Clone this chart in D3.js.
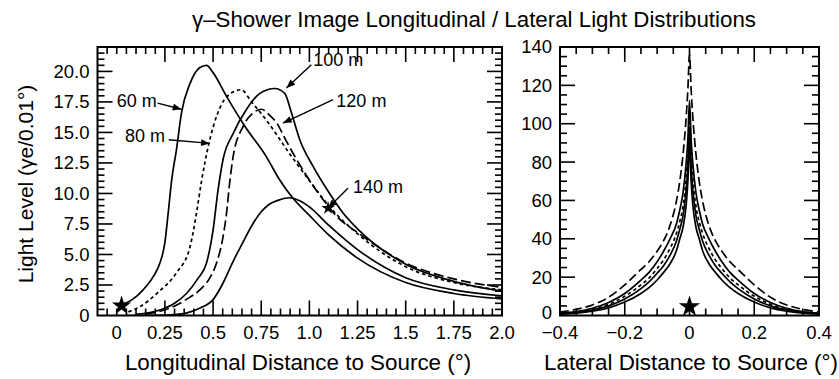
<!DOCTYPE html>
<html><head><meta charset="utf-8">
<script src="https://cdn.jsdelivr.net/npm/d3@7"></script>
<style>body{margin:0;background:#fff}svg{display:block}text{font-family:"Liberation Sans",Arial,Helvetica,sans-serif;fill:#000}</style>
</head><body><svg id="c" width="839" height="379"></svg>
<script>
// ---------- DATA ----------
const titleText = "\u03b3\u2013Shower Image Longitudinal / Lateral Light Distributions";
const leftXLabel = "Longitudinal Distance to Source (\u00b0)";
const rightXLabel = "Lateral Distance to Source (\u00b0)";
const leftYLabel = "Light Level (\u03b3e/0.01\u00b0)";

const leftXTicks = [0, 0.25, 0.5, 0.75, 1.0, 1.25, 1.5, 1.75, 2.0];
const leftXTickLabels = ["0", "0.25", "0.5", "0.75", "1.0", "1.25", "1.5", "1.75", "2.0"];
const leftYTicks = [0, 2.5, 5, 7.5, 10, 12.5, 15, 17.5, 20];
const leftYTickLabels = ["0", "2.5", "5.0", "7.5", "10.0", "12.5", "15.0", "17.5", "20.0"];
const rightXTicks = [-0.4, -0.2, 0, 0.2, 0.4];
const rightXTickLabels = ["\u22120.4", "\u22120.2", "0", "0.2", "0.4"];
const rightYTicks = [0, 20, 40, 60, 80, 100, 120, 140];
const rightYTickLabels = ["0", "20", "40", "60", "80", "100", "120", "140"];

// Longitudinal profiles
const x60  = [0.03,0.08,0.137,0.19,0.224,0.25,0.267,0.285,0.31,0.336,0.38,0.43,0.466,0.50,0.57,0.665,0.777,0.846,0.915,1.0,1.1,1.25,1.5,1.75,2.0];
const y60  = [0.9,1.3,2.1,3.2,4.3,6.0,8.4,11.1,13.6,16.6,19.0,20.3,20.5,19.9,17.95,15.5,13.0,11.1,9.6,8.2,6.6,4.7,2.7,1.8,1.35];
const x80  = [0.06,0.12,0.207,0.31,0.38,0.414,0.44,0.48,0.52,0.57,0.645,0.70,0.777,0.9,1.036,1.1,1.25,1.5,1.75,2.0];
const y80  = [0.3,0.72,1.8,3.5,5.6,8.4,11.0,14.2,16.4,17.9,18.5,17.5,16.0,13.2,10.3,9.0,6.7,4.0,2.7,2.1];
const x100 = [0.1,0.224,0.3,0.362,0.42,0.466,0.50,0.526,0.552,0.604,0.674,0.743,0.82,0.872,0.907,0.95,1.02,1.105,1.175,1.25,1.5,1.75,2.0];
const y100 = [0.1,0.45,1.0,1.8,3.0,4.3,7.0,10.3,12.8,14.9,16.9,18.2,18.6,18.2,16.6,14.4,12.2,10.0,8.4,7.1,4.2,2.8,2.0];
const x120 = [0.15,0.293,0.36,0.431,0.48,0.518,0.55,0.57,0.587,0.604,0.656,0.708,0.751,0.794,0.829,0.88,0.933,1.0,1.071,1.15,1.25,1.5,1.75,2.0];
const y120 = [0.1,0.72,1.3,2.1,3.0,4.3,6.3,8.4,11.0,13.0,15.5,16.6,16.9,16.4,15.8,14.3,12.8,11.1,9.5,8.0,6.8,4.3,3.0,2.3];
const x140 = [0.05,0.2,0.3,0.36,0.43,0.5,0.55,0.6,0.655,0.71,0.75,0.79,0.84,0.895,0.95,1.0,1.1,1.25,1.5,1.75,2.0];
const y140 = [0.0,0.02,0.08,0.2,0.6,1.3,2.6,4.3,6.0,7.6,8.5,9.1,9.45,9.65,9.4,8.9,7.4,5.4,3.1,2.1,1.6];

// Lateral profiles
const lateralX = [-0.4,-0.35,-0.3,-0.25,-0.2,-0.15,-0.125,-0.1,-0.08,-0.06,-0.04,-0.03,-0.02,-0.01,-0.005,0,0.005,0.01,0.02,0.03,0.04,0.06,0.08,0.1,0.125,0.15,0.2,0.25,0.3,0.35,0.4];
const latA = [1.8,3.2,5.5,9.5,16,24,28,33.5,39,47,60,70,84,104,118,136,118,104,84,70,60,47,39,33.5,28,24,16,9.5,5.5,3.2,1.8];
const latB = [1.2,2.1,3.8,6.8,11.5,18.5,22.5,28,33.5,40,48,55,64,80,92,112,92,80,64,55,48,40,33.5,28,22.5,18.5,11.5,6.8,3.8,2.1,1.2];
const latC = [1.0,1.8,3.2,5.8,10,16,19.5,24.5,29,35,43,49,57,72,84,104,84,72,57,49,43,35,29,24.5,19.5,16,10,5.8,3.2,1.8,1.0];
const latD = [0.9,1.6,2.8,5,8.6,14,17.5,22,26,31.5,39,45,52,66,78,98,78,66,52,45,39,31.5,26,22,17.5,14,8.6,5,2.8,1.6,0.9];
const latE = [0.7,1.2,2.2,4,7,11.5,14.5,18.5,22.5,27,34,40,46,58,70,90,70,58,46,40,34,27,22.5,18.5,14.5,11.5,7,4,2.2,1.2,0.7];

// Annotations (data coordinates): label, text start, arrow tail, arrow tip
const annLabels = ["60 m", "80 m", "100 m", "120 m", "140 m"];
const annText   = [[0.0, 17.1], [0.043, 14.2], [1.02, 20.45], [1.14, 17.05], [1.226, 10.0]];
const annTail   = [[0.212, 17.4], [0.27, 14.4], [1.01, 20.55], [1.123, 17.68], [1.2, 10.43]];
const annTip    = [[0.336, 16.9], [0.483, 14.1], [0.881, 18.64], [0.863, 15.77], [1.097, 8.8]];

// Star markers [x, y, symbol area]
const leftStars = [[0.025, 0.8, 115], [1.097, 8.8, 55]];
const rightStars = [[0, 4.6, 140]];

// ---------- DRAW ----------
const svg = d3.select("#c");
svg.append("rect").attr("width", 839).attr("height", 379).attr("fill", "#fff");

const LP = {x0: 97.5, x1: 502, y0: 315.5, y1: 47};
const RP = {x0: 560, x1: 819, y0: 315.5, y1: 47};

const xL = d3.scaleLinear().domain([-0.1, 2.0]).range([LP.x0, LP.x1]);
const yL = d3.scaleLinear().domain([0, 22]).range([LP.y0, LP.y1]);
const xR = d3.scaleLinear().domain([-0.4, 0.4]).range([RP.x0, RP.x1]);
const yR = d3.scaleLinear().domain([0, 140]).range([RP.y0, RP.y1]);

const FONT_TICK = 18.5;
const TMAJ = 15, TMIN = 7, TW = 1.6;

const defs = svg.append("defs");
defs.append("clipPath").attr("id", "clipL").append("rect").attr("x", LP.x0).attr("y", LP.y1).attr("width", LP.x1 - LP.x0).attr("height", LP.y0 - LP.y1);
defs.append("clipPath").attr("id", "clipR").append("rect").attr("x", RP.x0).attr("y", RP.y1 - 2).attr("width", RP.x1 - RP.x0).attr("height", RP.y0 - RP.y1 + 2);
defs.append("marker").attr("id", "arr").attr("viewBox", "0 0 10 8").attr("refX", 10).attr("refY", 4)
  .attr("markerWidth", 10).attr("markerHeight", 7).attr("markerUnits", "userSpaceOnUse").attr("orient", "auto")
  .append("path").attr("d", "M0,0 L10,4 L0,8 Z").attr("fill", "#000");

// Longitudinal curves
const longSeries = [
  {xs: x60, ys: y60, dash: null},
  {xs: x80, ys: y80, dash: "3.5,3"},
  {xs: x100, ys: y100, dash: null},
  {xs: x120, ys: y120, dash: "10,4"},
  {xs: x140, ys: y140, dash: null}
];
const lineL = d3.line().x(d => xL(d[0])).y(d => yL(d[1])).curve(d3.curveMonotoneX);
const gL = svg.append("g").attr("clip-path", "url(#clipL)");
longSeries.forEach(s => {
  gL.append("path").attr("d", lineL(s.xs.map((v, i) => [v, s.ys[i]])))
    .attr("fill", "none").attr("stroke", "#000").attr("stroke-width", 1.7)
    .attr("stroke-dasharray", s.dash);
});

// Lateral curves
const latSeries = [
  {ys: latA, dash: "9,4"},
  {ys: latB, dash: null},
  {ys: latC, dash: "3.5,3"},
  {ys: latD, dash: null},
  {ys: latE, dash: null}
];
const lineR = d3.line().x(d => xR(d[0])).y(d => yR(d[1])).curve(d3.curveMonotoneX);
const gR = svg.append("g").attr("clip-path", "url(#clipR)");
latSeries.forEach(s => {
  gR.append("path").attr("d", lineR(lateralX.map((v, i) => [v, s.ys[i]])))
    .attr("fill", "none").attr("stroke", "#000").attr("stroke-width", 1.7)
    .attr("stroke-dasharray", s.dash);
});

// Annotations
annLabels.forEach((t, i) => {
  svg.append("line")
    .attr("x1", xL(annTail[i][0])).attr("y1", yL(annTail[i][1]))
    .attr("x2", xL(annTip[i][0])).attr("y2", yL(annTip[i][1]))
    .attr("stroke", "#000").attr("stroke-width", 1.4).attr("marker-end", "url(#arr)");
  svg.append("text").attr("x", xL(annText[i][0])).attr("y", yL(annText[i][1]))
    .attr("font-size", 18).text(t);
});

// Stars
const star = d3.symbol().type(d3.symbolStar);
leftStars.forEach(s => {
  svg.append("path").attr("d", star.size(s[2])()).attr("transform", `translate(${xL(s[0])},${yL(s[1])})`).attr("fill", "#000");
});
rightStars.forEach(s => {
  svg.append("path").attr("d", star.size(s[2])()).attr("transform", `translate(${xR(s[0])},${yR(s[1])})`).attr("fill", "#000");
});

// Titles
svg.append("text").attr("x", 474).attr("y", 27).attr("text-anchor", "middle").attr("font-size", 22.3).text(titleText);
svg.append("text").attr("x", 298).attr("y", 370).attr("text-anchor", "middle").attr("font-size", 22.4).text(leftXLabel);
svg.append("text").attr("x", 691).attr("y", 370).attr("text-anchor", "middle").attr("font-size", 22.4).text(rightXLabel);
svg.append("text").attr("transform", "translate(33,184) rotate(-90)").attr("text-anchor", "middle").attr("font-size", 21).text(leftYLabel);

// ---------- AXES: ticks as filled rects, labels, frame ----------
function panel(xs, ys, P, xMinor, xMajor, xLabVals, xLabs, yMinor, yMajor, yLabVals, yLabs, zeroLift) {
  const gt = svg.append("g").attr("class", "ticks");
  const vt = (x, len) => {
    gt.append("rect").attr("x", x - TW / 2).attr("y", P.y0 - len).attr("width", TW).attr("height", len).attr("fill", "#000");
    gt.append("rect").attr("x", x - TW / 2).attr("y", P.y1).attr("width", TW).attr("height", len).attr("fill", "#000");
  };
  const ht = (y, len) => {
    gt.append("rect").attr("x", P.x0).attr("y", y - TW / 2).attr("width", len).attr("height", TW).attr("fill", "#000");
    gt.append("rect").attr("x", P.x1 - len).attr("y", y - TW / 2).attr("width", len).attr("height", TW).attr("fill", "#000");
  };
  xMinor.forEach(v => vt(xs(v), TMIN));
  xMajor.forEach(v => vt(xs(v), TMAJ));
  yMinor.forEach(v => ht(ys(v), TMIN));
  yMajor.forEach(v => ht(ys(v), TMAJ));

  xLabVals.forEach((v, i) => {
    svg.append("text").attr("x", xs(v)).attr("y", P.y0 + 23).attr("text-anchor", "middle")
      .attr("font-size", FONT_TICK).text(xLabs[i]);
  });
  yLabVals.forEach((v, i) => {
    svg.append("text").attr("x", P.x0 - 8).attr("y", ys(v) - (v === 0 ? zeroLift : 0)).attr("dy", "0.35em")
      .attr("text-anchor", "end").attr("font-size", FONT_TICK).text(yLabs[i]);
  });
  svg.append("rect").attr("x", P.x0).attr("y", P.y1).attr("width", P.x1 - P.x0).attr("height", P.y0 - P.y1)
    .attr("fill", "none").attr("stroke", "#000").attr("stroke-width", 2);
}

const near = (v, step) => Math.abs(v / step - Math.round(v / step)) < 1e-6;
const leftXMinor = d3.range(-0.05, 2.0, 0.05).map(v => +v.toFixed(2)).filter(v => !near(v, 0.25) || v === 0);
const leftXMajor = leftXTicks.filter(v => v > 0 && v < 2);
const leftYMinor = d3.range(0.5, 22, 0.5).map(v => +v.toFixed(2)).filter(v => !near(v, 2.5));
const leftYMajor = leftYTicks.filter(v => v > 0);
panel(xL, yL, LP, leftXMinor, leftXMajor, leftXTicks, leftXTickLabels, leftYMinor, leftYMajor, leftYTicks, leftYTickLabels, 0);

const rightXMinor = d3.range(-0.35, 0.4, 0.05).map(v => +v.toFixed(2)).filter(v => Math.abs(v) > 1e-9 && Math.abs(Math.abs(v) - 0.2) > 1e-9);
const rightXMajor = [-0.2, 0, 0.2];
const rightYMinor = d3.range(5, 140, 5).filter(v => v % 20 !== 0);
const rightYMajor = rightYTicks.filter(v => v > 0 && v < 140);
panel(xR, yR, RP, rightXMinor, rightXMajor, rightXTicks, rightXTickLabels, rightYMinor, rightYMajor, rightYTicks, rightYTickLabels, 3);
</script></body></html>
